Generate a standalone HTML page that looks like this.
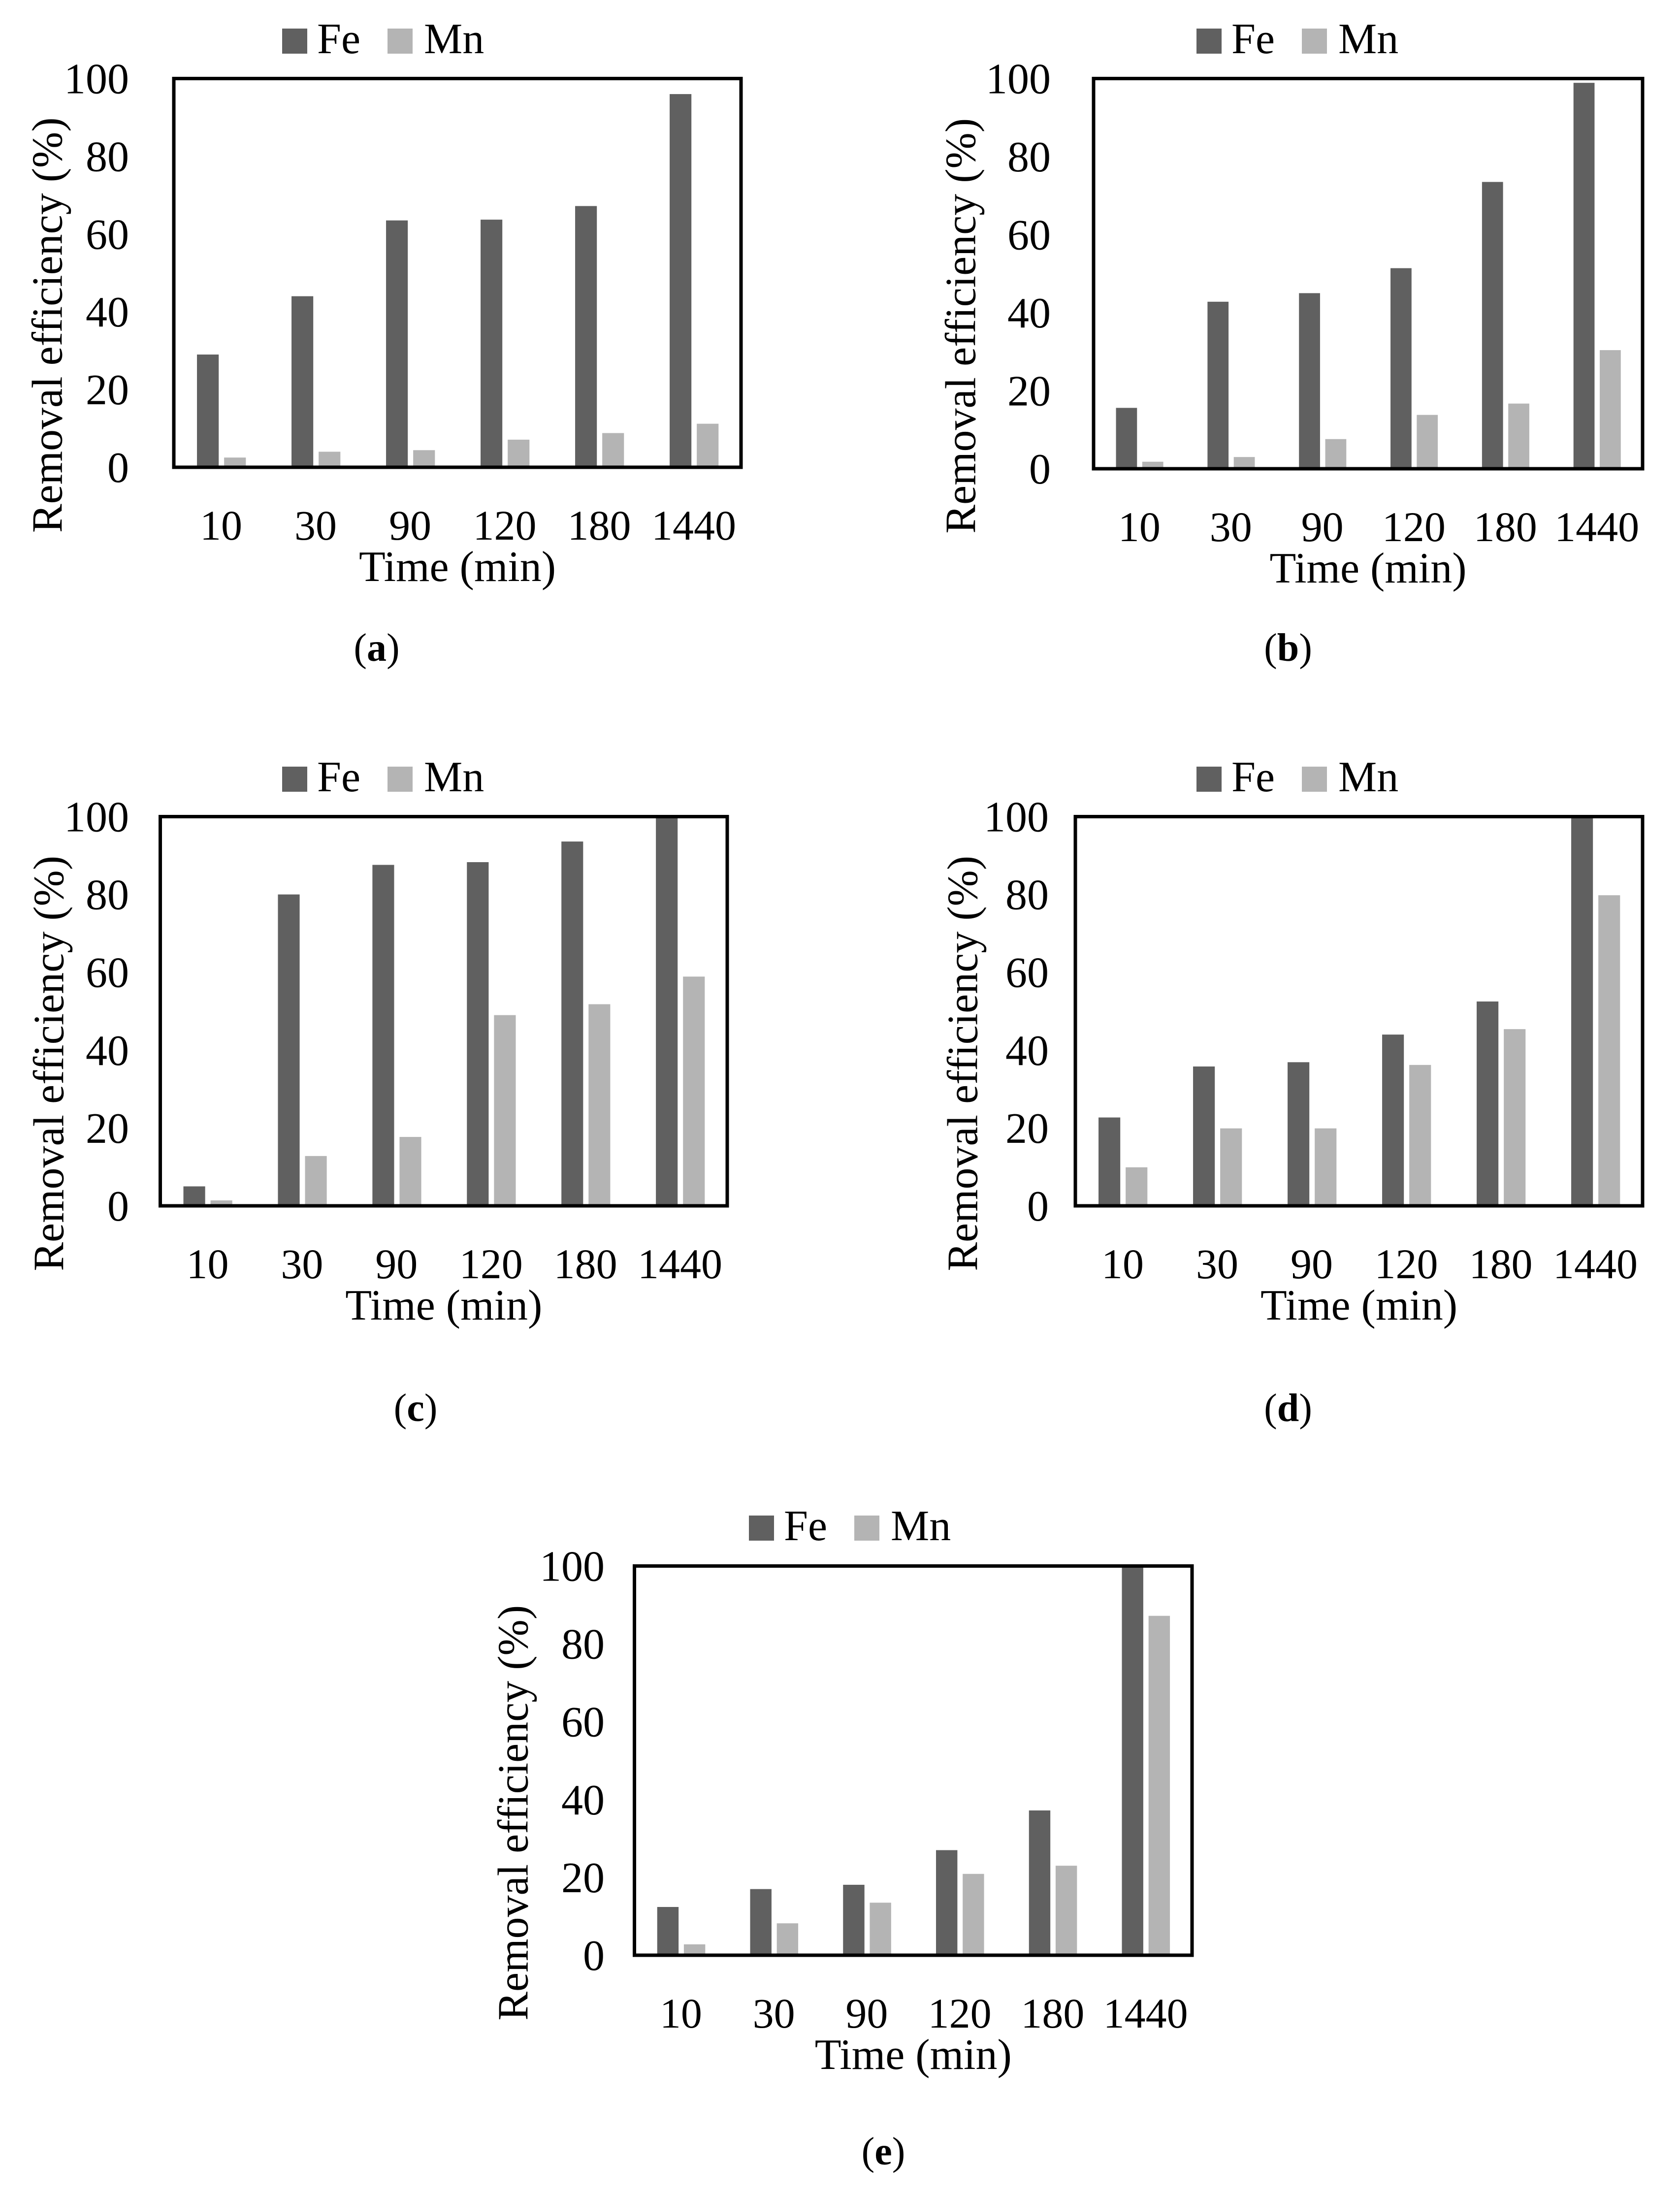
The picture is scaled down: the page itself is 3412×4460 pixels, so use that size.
<!DOCTYPE html>
<html><head><meta charset="utf-8"><style>
html,body{margin:0;padding:0;background:#fff}
svg{display:block}
text{font-family:"Liberation Serif",serif;fill:#000}
</style></head>
<body>
<svg id="fig" width="3412" height="4460" viewBox="0 0 3412 4460" xmlns="http://www.w3.org/2000/svg"></svg>
<script>
const categories = ["10","30","90","120","180","1440"];
const yTicks = [0,20,40,60,80,100];
const feA = [29,44,63.5,63.7,67.2,96];
const mnA = [2.5,4,4.4,7.1,8.8,11.2];
const feB = [15.6,42.8,45,51.4,73.5,98.9];
const mnB = [1.8,3,7.6,13.8,16.7,30.4];
const feC = [5,80,87.6,88.3,93.6,100];
const mnC = [1.4,12.8,17.7,49,51.8,58.9];
const feD = [22.7,35.8,36.9,44,52.5,100];
const mnD = [9.9,19.9,19.9,36.2,45.4,79.8];
const feE = [12.4,17,18.1,27,37.2,100];
const mnE = [2.8,8.2,13.5,20.9,23,87.2];

const NS = "http://www.w3.org/2000/svg";
const svg = document.getElementById('fig');
function mk(tag, attrs, parent){
  const e = document.createElementNS(NS, tag);
  for (const k in attrs) e.setAttribute(k, attrs[k]);
  (parent||svg).appendChild(e);
  return e;
}

const panels = [
 {id:'a', fe:feA, mn:mnA, x0:353, x1:1505, y0:159.5, y1:949, tickR:262, ytx:97, leg:[573,58], cap:[765,1342]},
 {id:'b', fe:feB, mn:mnB, x0:2221, x1:3336, y0:159.5, y1:952, tickR:2134, ytx:1952, leg:[2430,58], cap:[2616,1342]},
 {id:'c', fe:feC, mn:mnC, x0:325.5, x1:1477, y0:1658.5, y1:2449, tickR:262, ytx:100, leg:[573,1557], cap:[844,2886]},
 {id:'d', fe:feD, mn:mnD, x0:2184, x1:3336, y0:1658.5, y1:2449, tickR:2130, ytx:1956, leg:[2430,1557], cap:[2616,2886]},
 {id:'e', fe:feE, mn:mnE, x0:1288.5, x1:2421, y0:3180.5, y1:3971, tickR:1228, ytx:1043, leg:[1521,3078], cap:[1794,4396]}
];

panels.forEach(p=>{
  const g = mk('g', {});
  
  
  const yScale = v => p.y1 - (v/100)*(p.y1-p.y0);
  const cw = (p.x1-p.x0)/categories.length;
  const xCat = i => p.x0 + i*cw;
  const bw = 0.23*cw, off = 0.245*cw, gap = 0.057*cw;

  categories.forEach((c,i)=>{
    const fy = yScale(p.fe[i]);
    const fb = mk('rect', {x:xCat(i)+off, y:fy, width:bw, height:p.y1-fy, fill:'#606060'}, g);
    
    
    const my = yScale(p.mn[i]);
    const mb = mk('rect', {x:xCat(i)+off+bw+gap, y:my, width:bw, height:p.y1-my, fill:'#b4b4b4'}, g);
    
    
    const t = mk('text', {x:xCat(i)+cw/2, y:p.y1+147, 'font-size':86, 'text-anchor':'middle'}, g);
    t.textContent = c;
    
    
  });

  const box = mk('rect', {x:p.x0, y:p.y0, width:p.x1-p.x0, height:p.y1-p.y0, fill:'none', stroke:'#000', 'stroke-width':7}, g);
  
  

  yTicks.forEach(v=>{
    const t = mk('text', {x:p.tickR, y:yScale(v)+30, 'font-size':88, 'text-anchor':'end'}, g);
    t.textContent = v;
    
    
  });

  const cy = (p.y0+p.y1)/2 + 106;
  const yt = mk('text', {x:p.ytx, y:cy, 'font-size':88, 'text-anchor':'middle', 'dominant-baseline':'central', transform:`rotate(-90 ${p.ytx} ${cy})`}, g);
  yt.textContent = 'Removal efficiency (%)';
  
  

  const xt = mk('text', {x:(p.x0+p.x1)/2, y:p.y1+231, 'font-size':88, 'text-anchor':'middle'}, g);
  xt.textContent = 'Time (min)';
  
  

  const [lx, ly] = p.leg;
  const l1 = mk('rect', {x:lx, y:ly, width:51, height:51, fill:'#606060'}, g);
  
  
  const l1t = mk('text', {x:lx+71, y:ly+50, 'font-size':88}, g);
  l1t.textContent = 'Fe';
  
  
  const l2 = mk('rect', {x:lx+214, y:ly, width:51, height:51, fill:'#b4b4b4'}, g);
  
  
  const l2t = mk('text', {x:lx+288, y:ly+50, 'font-size':88}, g);
  l2t.textContent = 'Mn';
  
  

  const cap = mk('text', {x:p.cap[0], y:p.cap[1], 'font-size':80, 'text-anchor':'middle'}, g);
  cap.innerHTML = '(<tspan font-weight="bold">' + p.id + '</tspan>)';
  
  
});
</script>
</body></html>
